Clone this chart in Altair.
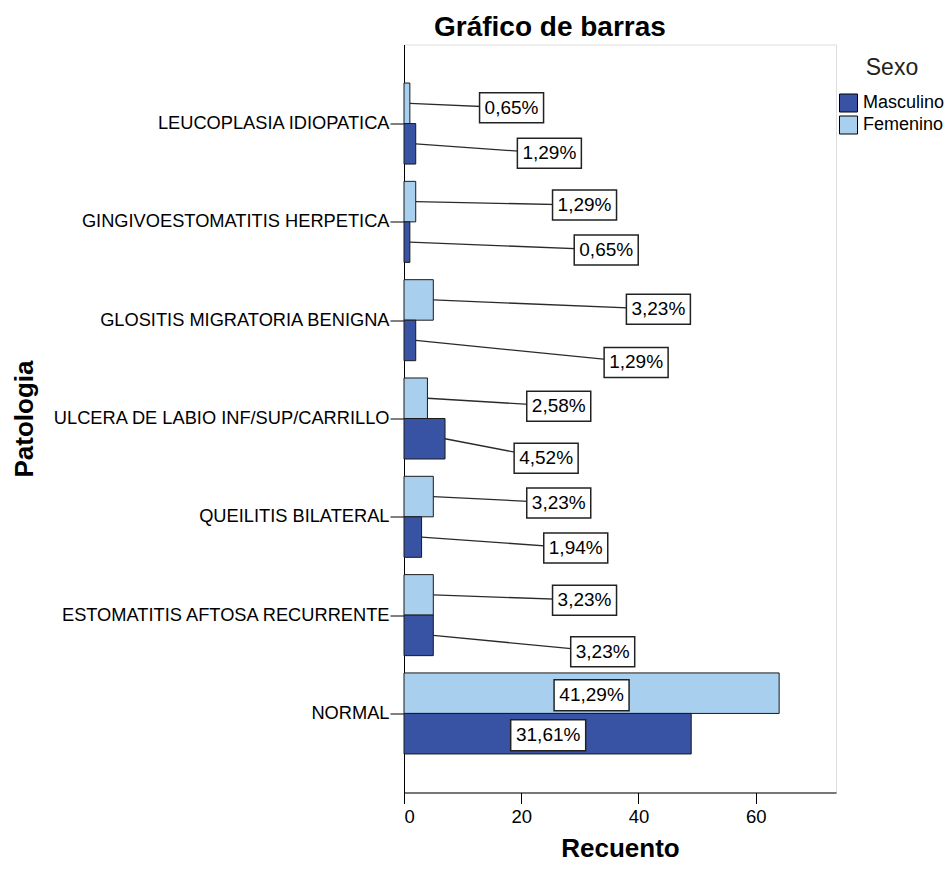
import json
import altair as alt
import pandas as pd

# ---- data ----
categories = [
    "LEUCOPLASIA IDIOPATICA",
    "GINGIVOESTOMATITIS HERPETICA",
    "GLOSITIS MIGRATORIA BENIGNA",
    "ULCERA DE LABIO INF/SUP/CARRILLO",
    "QUEILITIS BILATERAL",
    "ESTOMATITIS AFTOSA RECURRENTE",
    "NORMAL",
]
sexes = ["Masculino", "Femenino"]
masculino = [2, 1, 2, 7, 3, 5, 49]
femenino = [1, 2, 5, 4, 5, 5, 64]

# ---- annotation layout (label anchor positions, x in counts, dy in category units) ----
label_x_fem = [18.35, 30.8, 43.4, 26.4, 26.4, 30.8, 32.0]
label_x_mas = [24.8, 34.5, 39.6, 24.25, 29.3, 33.9, 24.6]
label_dy_fem = [0.046, 0.035, 0.094, 0.081, 0.065, 0.054, 0.02]
label_dy_mas = [0.097, 0.079, 0.224, 0.198, 0.112, 0.166, 0.015]

HALF = 0.412  # bar thickness in category units
total = sum(masculino) + sum(femenino)

rows = []
for i, cat in enumerate(categories):
    for sex, vals, lx, ldy in (("Femenino", femenino, label_x_fem, label_dy_fem),
                               ("Masculino", masculino, label_x_mas, label_dy_mas)):
        v = vals[i]
        if sex == "Femenino":
            y0, y1 = i - HALF, i
        else:
            y0, y1 = i, i + HALF
        ymid = (y0 + y1) / 2
        pct = f"{v / total * 100:.2f}".replace(".", ",") + "%"
        rows.append(dict(cat=cat, idx=i, sex=sex, count=v, x0=0, y0=y0, y1=y1,
                         ymid=ymid, lx=lx[i], ly=ymid + ldy[i], pct=pct))
df = pd.DataFrame(rows)

FONT = "Liberation Sans"

xscale = alt.Scale(domain=[0, 73.7], nice=False, zero=True)
yscale = alt.Scale(domain=[-0.804, 6.804], nice=False, zero=False, reverse=True)

XAX = alt.Axis(values=[0, 20, 40, 60], grid=False, tickSize=11, tickColor="black",
               domainColor="black", labelFont=FONT, labelFontSize=18.5, labelColor="black",
               labelPadding=3.5, title="Recuento", titleFont=FONT, titleFontSize=26,
               titleFontWeight="bold", titleColor="black", titleBaseline="alphabetic",
               titleY=63.5)
YAX = alt.Axis(values=list(range(len(categories))), grid=False, tickSize=14,
               tickColor="black", domainColor="black", labelFont=FONT,
               labelFontSize=18.25, labelColor="black", labelPadding=1, labelLimit=500,
               labelExpr=json.dumps(categories) + "[datum.value]",
               title="Patologia", titleFont=FONT, titleFontSize=26, titleFontWeight="bold",
               titleColor="black", titleAngle=270, titleAlign="center",
               titleBaseline="alphabetic", titleX=-372, titleY=374)

base = alt.Chart(df)

rules = base.mark_rule(color="#2a2a2a", strokeWidth=1.3).encode(
    x=alt.X("count:Q", scale=xscale, axis=XAX),
    x2="lx:Q",
    y=alt.Y("ymid:Q", scale=yscale, axis=YAX),
    y2="ly:Q",
)

bars = base.mark_rect(stroke="#1a1a1a", strokeWidth=1).encode(
    x=alt.X("x0:Q", scale=xscale, axis=XAX),
    x2="count:Q",
    y=alt.Y("y0:Q", scale=yscale, axis=YAX),
    y2="y1:Q",
    color=alt.Color("sex:N", scale=alt.Scale(domain=sexes, range=["#3953A4", "#A9CFEE"]),
                    legend=alt.Legend(orient="none", legendX=435, legendY=12, title="Sexo",
                                      titleFont=FONT, titleFontSize=23,
                                      titleFontWeight="normal", titleColor="#222222",
                                      titleAnchor="middle", titlePadding=14,
                                      labelFont=FONT, labelFontSize=18, labelColor="black",
                                      labelOffset=5, symbolType="square", symbolSize=324,
                                      symbolStrokeColor="black", symbolStrokeWidth=1,
                                      symbolOpacity=1, rowPadding=-1, padding=0)),
)

PATH_S = "M-1,-0.469L1,-0.469L1,0.469L-1,0.469Z"
PATH_L = "M-1,-0.413L1,-0.413L1,0.413L-1,0.413Z"

boxes_s = base.transform_filter("length(datum.pct) <= 5").mark_point(
    shape=PATH_S, size=4096, filled=True, fill="white", stroke="#222222",
    strokeWidth=1.5, opacity=1).encode(
    x=alt.X("lx:Q", scale=xscale, axis=XAX),
    y=alt.Y("ly:Q", scale=yscale, axis=YAX),
)
boxes_l = base.transform_filter("length(datum.pct) > 5").mark_point(
    shape=PATH_L, size=5625, filled=True, fill="white", stroke="#222222",
    strokeWidth=1.5, opacity=1).encode(
    x=alt.X("lx:Q", scale=xscale, axis=XAX),
    y=alt.Y("ly:Q", scale=yscale, axis=YAX),
)
texts = base.mark_text(font=FONT, fontSize=19, color="black", align="center",
                       baseline="middle").encode(
    x=alt.X("lx:Q", scale=xscale, axis=XAX),
    y=alt.Y("ly:Q", scale=yscale, axis=YAX),
    text="pct:N",
)

chart = alt.layer(rules, bars, boxes_s, boxes_l, texts).properties(
    width=432,
    height=748,
    title=alt.TitleParams("Gráfico de barras", anchor="start", frame="group", dx=30,
                          dy=28, offset=8.5, baseline="alphabetic", fontSize=28,
                          font=FONT, fontWeight="bold", color="black"),
    autosize=alt.AutoSizeParams(type="none"),
    padding={"left": 396, "top": 36.5, "right": 108, "bottom": 69.5},
).configure_view(stroke="black", strokeWidth=1, fill="#F0F0F0").configure(
    background="white")

chart.save("out.html", embed_options={"renderer": "svg", "actions": False})
